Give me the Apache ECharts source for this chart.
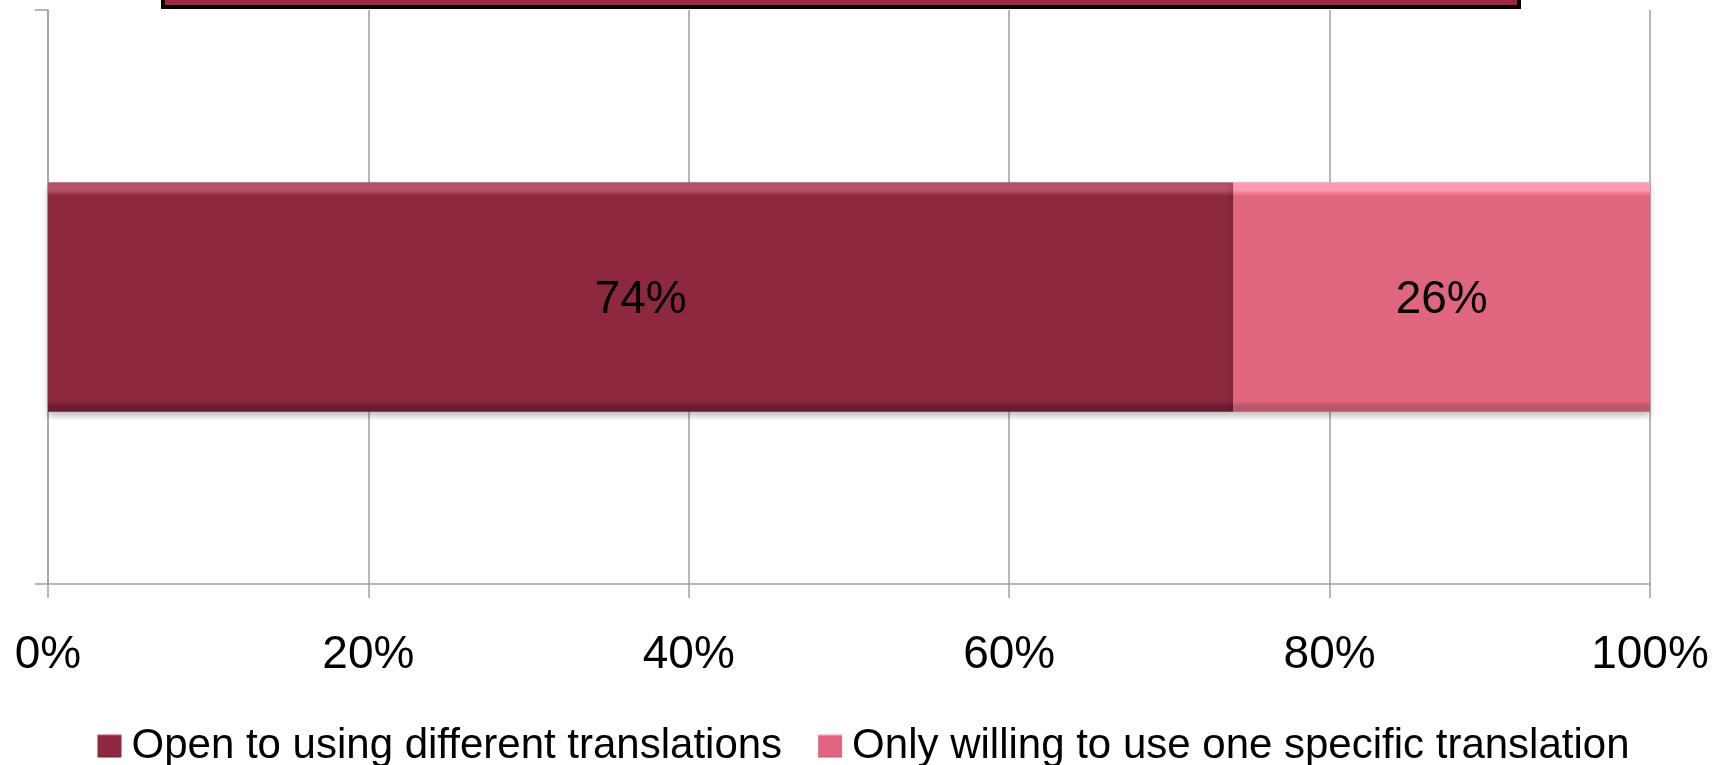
<!DOCTYPE html>
<html>
<head>
<meta charset="utf-8">
<script src="https://cdn.jsdelivr.net/npm/echarts@6/dist/echarts.min.js"></script>
<style>
html,body{margin:0;padding:0;background:#fff;}
#chart{width:1727px;height:765px;}
</style>
</head>
<body>
<div id="chart"></div>
<script>
var categories = ['All respondents'];
var seriesNames = ['Open to using different translations', 'Only willing to use one specific translation'];
var openValues = [74];
var onlyOneValues = [26];
var xTicks = [0, 20, 40, 60, 80, 100];

var FONT = 'Liberation Sans, Arial, sans-serif';

function bevel(top, main, bottom) {
  return {
    type: 'linear', x: 0, y: 0, x2: 0, y2: 1,
    colorStops: [
      {offset: 0, color: top},
      {offset: 0.035, color: top},
      {offset: 0.06, color: main},
      {offset: 0.95, color: main},
      {offset: 0.975, color: bottom},
      {offset: 1, color: bottom}
    ]
  };
}

var chart = echarts.init(document.getElementById('chart'), null, {renderer: 'canvas'});
chart.setOption({
  backgroundColor: '#ffffff',
  animation: false,
  graphic: [{
    type: 'rect',
    shape: {x: 163, y: -30, width: 1356, height: 37},
    style: {fill: '#9E2742', stroke: '#000000', lineWidth: 4},
    z: 100
  }],
  grid: {left: 48, right: 77, top: 10, bottom: 181, containLabel: false},
  xAxis: {
    type: 'value',
    min: xTicks[0],
    max: xTicks[xTicks.length - 1],
    interval: xTicks[1] - xTicks[0],
    axisLine: {show: true, lineStyle: {color: '#A0A0A0', width: 1.5}},
    axisTick: {show: true, length: 14, inside: false, lineStyle: {color: '#A0A0A0', width: 1.5}},
    splitLine: {show: true, lineStyle: {color: '#A0A0A0', width: 1.5}},
    axisLabel: {
      formatter: '{value}%',
      fontSize: 46,
      fontFamily: FONT,
      color: '#000000',
      margin: 48
    }
  },
  yAxis: {
    type: 'category',
    data: categories,
    axisLine: {show: true, lineStyle: {color: '#A0A0A0', width: 1.5}},
    axisTick: {show: true, length: 13, inside: false, lineStyle: {color: '#A0A0A0', width: 1.5}},
    axisLabel: {show: false},
    splitLine: {show: false}
  },
  legend: {
    top: 720,
    left: 'center',
    icon: 'rect',
    itemWidth: 24,
    itemHeight: 23,
    itemGap: 36,
    textStyle: {fontSize: 42, fontFamily: FONT, color: '#000000', padding: [0, 0, 0, 5]},
    data: seriesNames
  },
  series: [
    {
      name: seriesNames[0],
      type: 'bar',
      stack: 'total',
      barWidth: '40%',
      data: openValues,
      itemStyle: {
        color: bevel('#B4506A', '#8E283F', '#6A1C2E'),
        shadowColor: 'rgba(0,0,0,0.25)', shadowBlur: 6, shadowOffsetY: 4
      },
      label: {
        show: true, position: 'inside', formatter: '{c}%', offset: [0, 3],
        fontSize: 46, fontFamily: FONT, color: '#000000'
      }
    },
    {
      name: seriesNames[1],
      type: 'bar',
      stack: 'total',
      barWidth: '40%',
      data: onlyOneValues,
      itemStyle: {
        color: bevel('#FF9BB2', '#E0667F', '#B9566A'),
        shadowColor: 'rgba(0,0,0,0.25)', shadowBlur: 6, shadowOffsetY: 4
      },
      label: {
        show: true, position: 'inside', formatter: '{c}%', offset: [0, 3],
        fontSize: 46, fontFamily: FONT, color: '#000000'
      }
    }
  ]
});
</script>
</body>
</html>
